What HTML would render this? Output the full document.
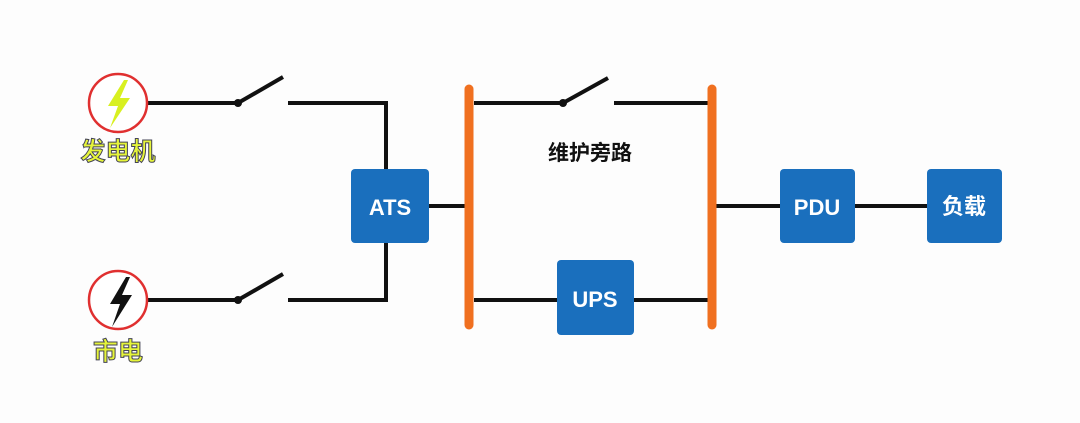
<!DOCTYPE html>
<html><head><meta charset="utf-8"><style>
body{margin:0;background:#fff;}
svg{display:block}
</style></head><body>
<svg width="1080" height="423" viewBox="0 0 1080 423" xmlns="http://www.w3.org/2000/svg">
<rect width="1080" height="423" fill="#fdfdfd"/>
<g stroke="#111" stroke-width="4" fill="none">
<line x1="148" y1="103" x2="238" y2="103"/>
<line x1="238" y1="103" x2="283" y2="77"/>
<polyline points="288,103 386,103 386,300 288,300"/>
<line x1="148" y1="300" x2="238" y2="300"/>
<line x1="238" y1="300" x2="283" y2="274"/>
<line x1="429" y1="206" x2="466" y2="206"/>
<line x1="474" y1="103" x2="563" y2="103"/>
<line x1="563" y1="103" x2="608" y2="78"/>
<line x1="614" y1="103" x2="710" y2="103"/>
<line x1="474" y1="300" x2="710" y2="300"/>
<line x1="716" y1="206" x2="930" y2="206"/>
</g>
<circle cx="238" cy="103" r="4" fill="#111"/><circle cx="238" cy="300" r="4" fill="#111"/><circle cx="563" cy="103" r="4" fill="#111"/>
<line x1="469" y1="89" x2="469" y2="325" stroke="#f07020" stroke-width="9" stroke-linecap="round"/>
<line x1="712" y1="89" x2="712" y2="325" stroke="#f07020" stroke-width="9" stroke-linecap="round"/>
<circle cx="118" cy="103" r="29" fill="#fff" stroke="#e03030" stroke-width="2.5"/>
<polygon points="124,80 108,106 118,106 110,128 130,98 120,98 128,80" fill="#d8f020"/>
<circle cx="118" cy="300" r="29" fill="#fff" stroke="#e03030" stroke-width="2.5"/>
<polygon points="126,277 110,304 120,304 112,327 132,295 122,295 130,277" fill="#111"/>
<g font-family="Liberation Sans, 'Noto Sans CJK SC', sans-serif" font-weight="bold" fill="#fff" text-anchor="middle">
<rect x="351" y="169" width="78" height="74" rx="4" fill="#1a6fbd"/><text x="390" y="215" font-size="22">ATS</text>
<rect x="557" y="260" width="77" height="75" rx="4" fill="#1a6fbd"/><text x="595" y="307" font-size="22">UPS</text>
<rect x="780" y="169" width="75" height="74" rx="4" fill="#1a6fbd"/><text x="817" y="215" font-size="22">PDU</text>
<rect x="927" y="169" width="75" height="74" rx="4" fill="#1a6fbd"/><text x="964" y="214" font-size="22">负载</text>
<text x="590" y="160" font-size="21" fill="#111">维护旁路</text>
<text x="118" y="160" font-size="25" fill="#e6f53a" stroke="#445" stroke-width="1">发电机</text>
<text x="118" y="360" font-size="25" fill="#e6f53a" stroke="#445" stroke-width="1">市电</text>
</g>
</svg>
</body></html>
